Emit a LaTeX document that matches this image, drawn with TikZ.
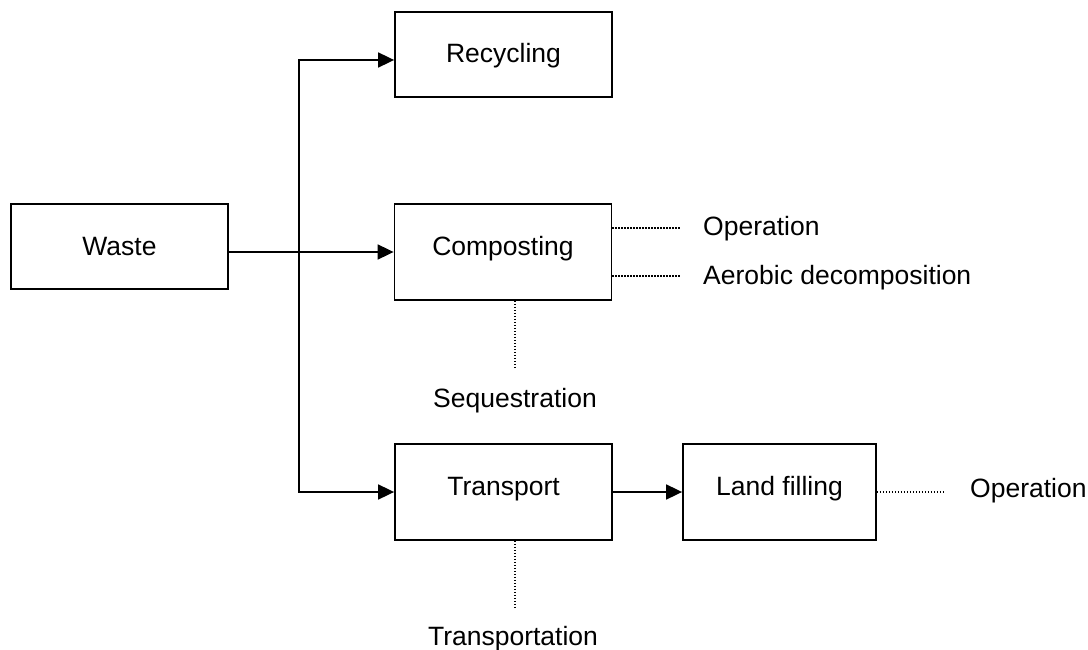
\documentclass[tikz,border=0pt]{standalone}
\usepackage{fontspec}
\setmainfont{Liberation Sans}
\usetikzlibrary{arrows.meta}
\tikzset{
  txt/.style={font=\fontsize{26.5}{30}\selectfont, inner sep=0pt},
  boxa/.style={draw, line width=1.8pt, txt, minimum width=217pt, minimum height=85pt, text height=17pt, text depth=0pt},
  boxb/.style={draw, line width=1.8pt, txt, minimum width=217pt, minimum height=96pt, text height=12pt, text depth=6pt},
  arr/.style={line width=1.8pt, -{Triangle[length=16pt,width=15pt]}},
  dots/.style={line width=1.2pt, dash pattern=on 1.2pt off 1.8pt},
}
\begin{document}
\begin{tikzpicture}[x=1pt,y=-1pt]
\useasboundingbox (0,0) rectangle (1088,650);
% boxes
\node[boxa] (waste) at (119.5,246.5) {Waste};
\node[boxa] (recy) at (503.5,54.5) {Recycling};
\node[boxb] (comp) at (503,252) {Composting};
\node[boxb] (trans) at (503.5,492) {Transport};
\node[boxb, minimum width=193pt] (land) at (779.5,492) {Land filling};
% outside labels
\node[txt, anchor=base west] (op1) at (703,236) {Operation};
\node[txt, anchor=base west] (aer) at (703,284) {Aerobic decomposition};
\node[txt, anchor=base] (seq) at (515,407) {Sequestration};
\node[txt, anchor=base] (trp) at (513,645) {Transportation};
\node[txt, anchor=base west] (op2) at (970,497) {Operation};
% connectors
\coordinate (j) at (299,252);
\draw[arr] (waste.east |- comp.west) -- (comp.west);
\draw[arr] (j) |- ([yshift=-5.5pt]recy.west);
\draw[arr] (j) |- (trans.west);
\draw[arr] (trans.east) -- (land.west);
% dotted leaders
\coordinate (c1) at (680,228);
\coordinate (c2) at (680,276);
\coordinate (c3) at (515,369);
\coordinate (c4) at (515,609);
\coordinate (c5) at (943,492);
\draw[dots] (comp.east |- c1) -- (c1);
\draw[dots] (comp.east |- c2) -- (c2);
\draw[dots] (c3 |- comp.south) -- (c3);
\draw[dots] (c4 |- trans.south) -- (c4);
\draw[dots] (land.east |- c5) -- (c5);
\end{tikzpicture}
\end{document}
